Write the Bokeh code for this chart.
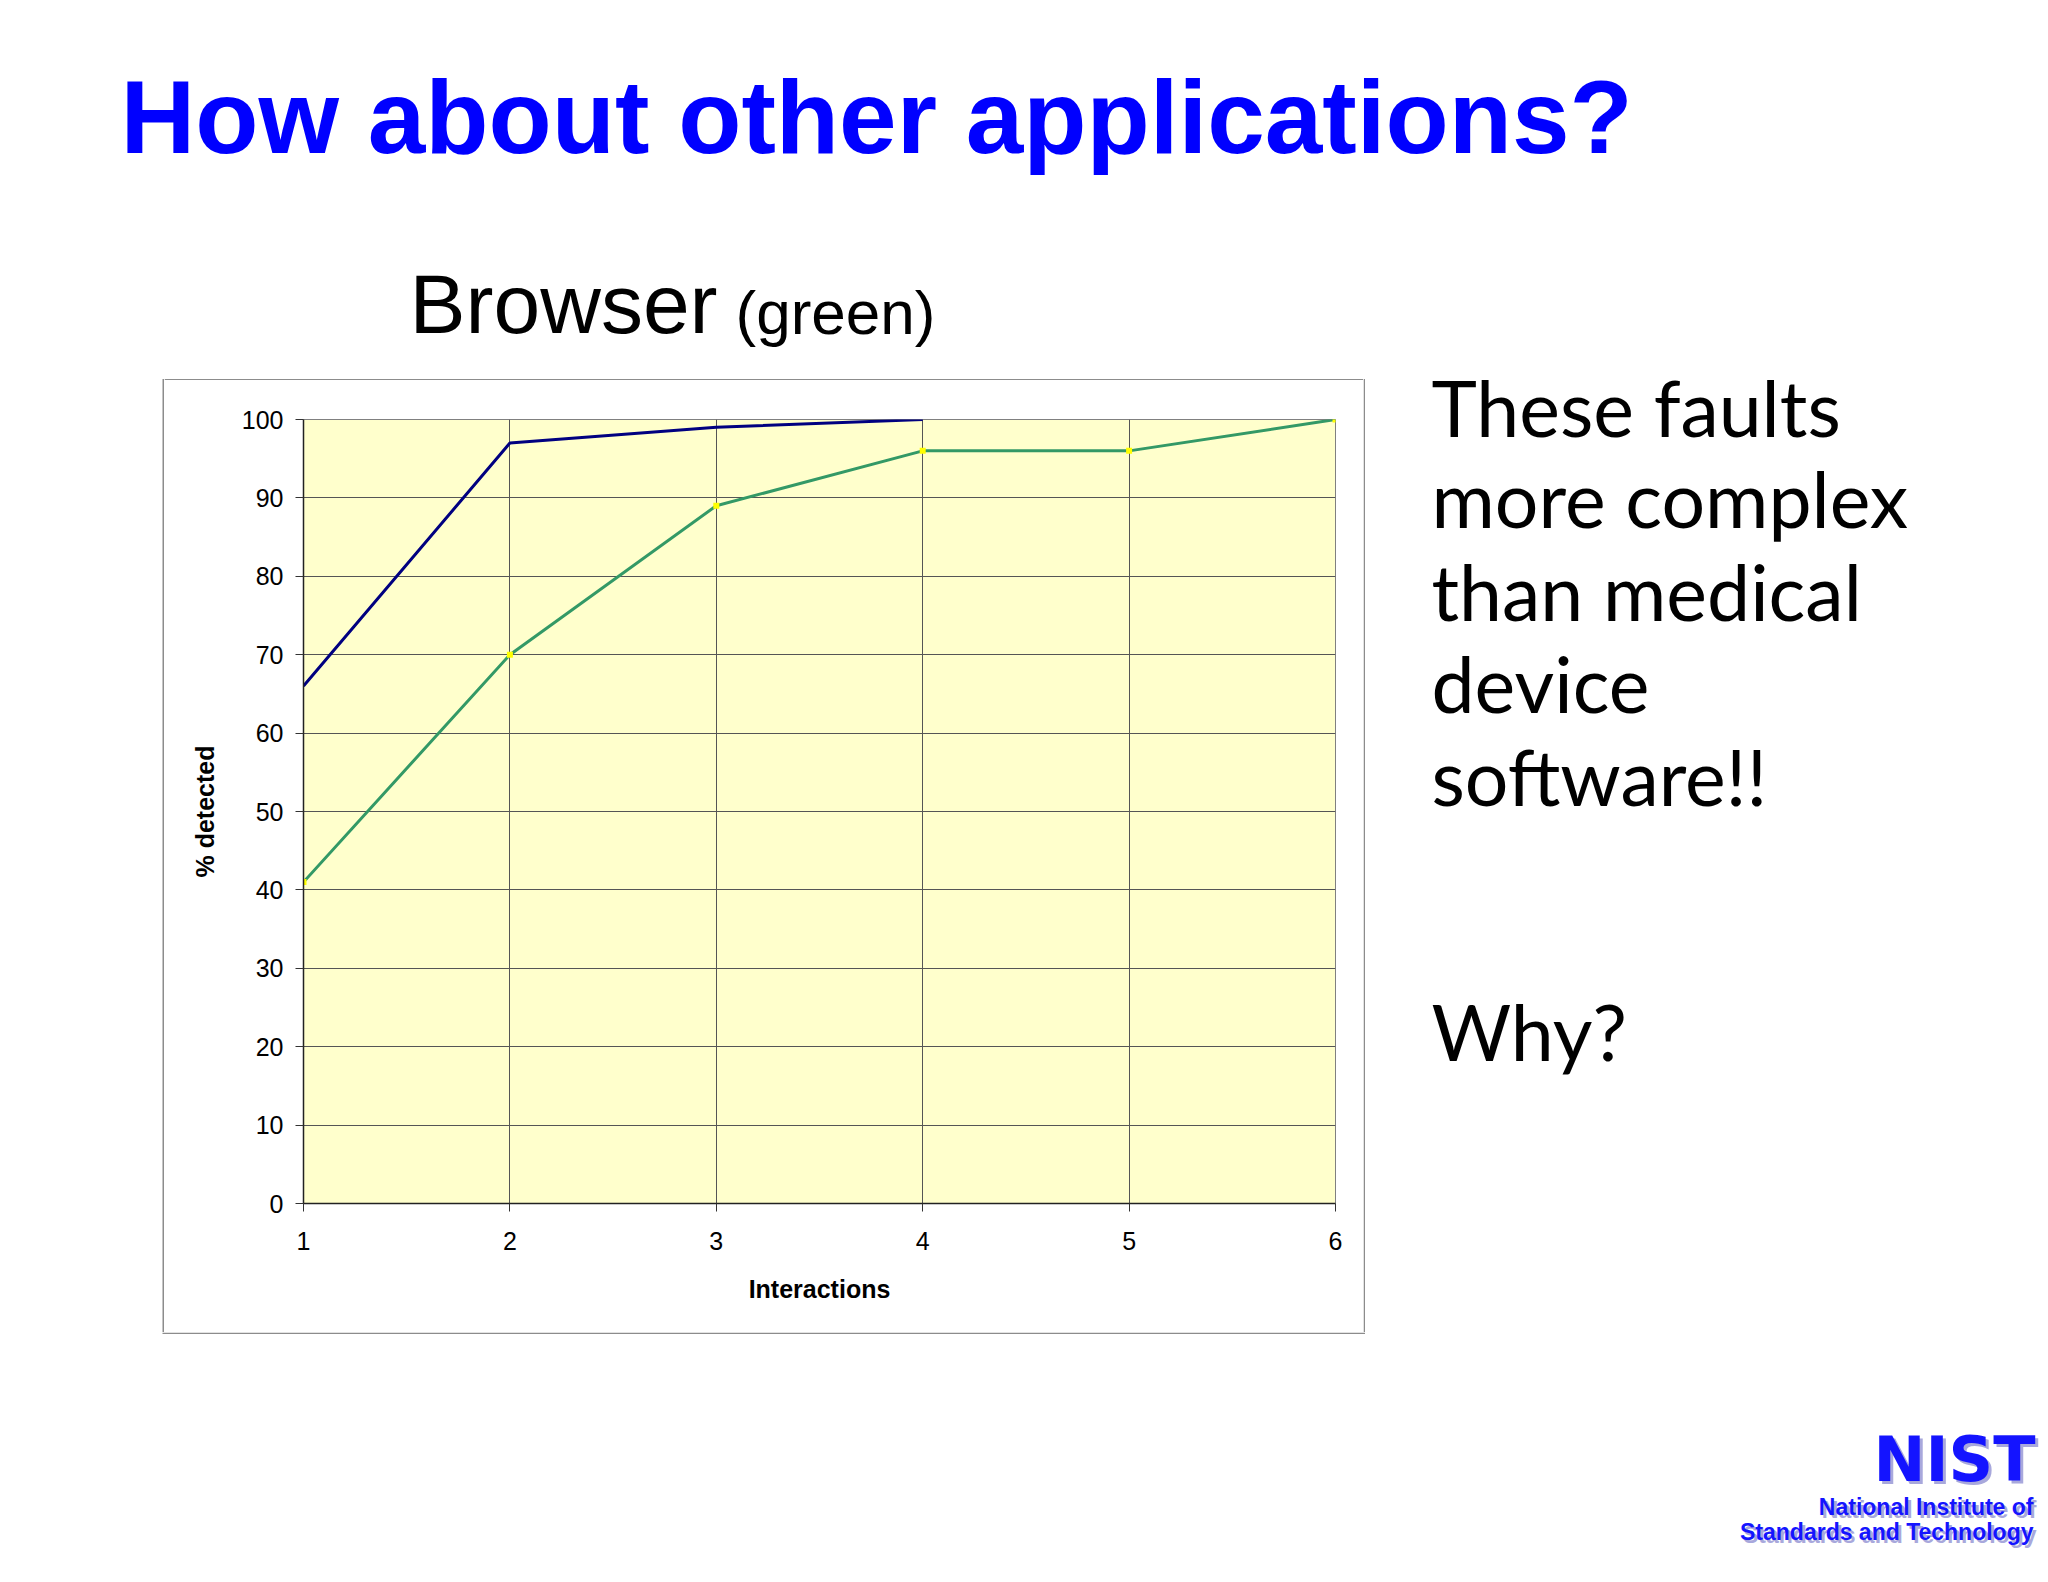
from bokeh.plotting import figure
from bokeh.models import Range1d
from bokeh.layouts import column, row
from bokeh.core.properties import value
from bokeh.embed import file_html
from bokeh.resources import INLINE

# ---- data ----
interactions = [1, 2, 3, 4, 5, 6]
blue_x = [1, 2, 3, 4]
blue_pct = [66, 97, 99, 100]
green_x = [1, 2, 3, 4, 5, 6]
green_pct = [41, 70, 89, 96, 96, 100]
y_ticks = [0, 10, 20, 30, 40, 50, 60, 70, 80, 90, 100]

title_text = "How about other applications?"
subtitle_main = "Browser"
subtitle_note = "(green)"
side_lines = ["These faults", "more complex", "than medical", "device", "software!!"]
side_question = "Why?"
logo_big = "NIST"
logo_lines = ["National Institute of", "Standards and Technology"]

PAGE_W = 2040
BOX_L, BOX_T, BOX_R, BOX_B = 163, 380, 1363, 1332      # outer chart box (page px)
FL, FT, FR, FB = 303, 419, 1335, 1203                  # plot area (page px)
TOP_H = 354                                            # height of the title band
BOTTOM_H = 243
BOX_COLOR = "#8c8c8c"
STRIP_W = BOX_L + 1
MID_H = BOX_B - TOP_H
GAP = BOX_T - TOP_H

# vertical offset between requested y and drawn baseline (per font, x size)
BASE_K = {"Liberation Sans": 0.346, "DejaVu Sans": 0.346, "Lato": 0.387}


def canvas(w, h):
    """A plain figure whose plot area is its whole canvas, 1 unit = 1 px, y down."""
    f = figure(width=w, height=h, output_backend="svg", toolbar_location=None,
               x_range=Range1d(0, w), y_range=Range1d(h, 0), frame_align=False,
               min_border=0, min_border_left=0, min_border_right=0,
               min_border_top=0, min_border_bottom=0)
    f.axis.visible = False
    f.grid.visible = False
    f.outline_line_color = None
    f.background_fill_color = "white"
    f.border_fill_color = "white"
    return f


def txt(f, s, x, baseline, size, color="black", font="Liberation Sans",
        style="normal", align="left"):
    y = baseline - BASE_K[font] * size
    f.text(x=[x], y=[y], text=[s], text_font=value(font),
           text_font_size=value(f"{size}px"), text_color=color,
           text_font_style=style, text_align=align, text_baseline="alphabetic")


# ---------- top: title and subtitle ----------
top = canvas(PAGE_W, TOP_H)
txt(top, title_text, 120, 152, 103.5, "#0000FF", style="bold")
txt(top, subtitle_main, 409, 333, 84)
txt(top, subtitle_note, 735, 333, 62)

# ---------- left strip (box left edge) ----------
strip = canvas(STRIP_W, MID_H)
strip.line([BOX_L - 0.25, BOX_L - 0.25], [GAP - 1.5, MID_H], line_color=BOX_COLOR,
           line_width=1.5)

# ---------- thin band above the chart (box top edge) ----------
edge = canvas(BOX_R - STRIP_W, GAP)
edge.line([0, BOX_R - STRIP_W], [GAP - 0.75, GAP - 0.75], line_color=BOX_COLOR,
          line_width=1.5)

# ---------- chart ----------
p = figure(width=BOX_R - STRIP_W, height=BOX_B - BOX_T, output_backend="svg",
           toolbar_location=None, x_range=Range1d(1, 6), y_range=Range1d(0, 100),
           frame_align=False,
           min_border_left=FL - STRIP_W, min_border_right=BOX_R - FR,
           min_border_top=FT - BOX_T, min_border_bottom=BOX_B - FB)
p.background_fill_color = "#FFFFCC"
p.border_fill_color = "white"
p.outline_line_color = "#808080"
p.outline_line_width = 1

p.xaxis.ticker = interactions
p.yaxis.ticker = y_ticks
for ax in (p.xaxis[0], p.yaxis[0]):
    ax.major_tick_in = 0
    ax.major_tick_out = 8
    ax.minor_tick_line_color = None
    ax.major_tick_line_color = "#333333"
    ax.axis_line_color = "#222222"
    ax.axis_line_width = 1.5
    ax.major_label_text_font = "Liberation Sans"
    ax.major_label_text_font_size = "25px"
    ax.major_label_text_color = "black"
    ax.axis_label_text_font = "Liberation Sans"
    ax.axis_label_text_font_size = "25px"
    ax.axis_label_text_font_style = "bold"
    ax.axis_label_text_color = "black"
p.xaxis.axis_label = "Interactions"
p.yaxis.axis_label = "% detected"
p.xaxis.major_label_standoff = 20
p.yaxis.major_label_standoff = 12
p.xaxis.axis_label_standoff = 22
p.yaxis.axis_label_standoff = 20

p.xgrid.grid_line_color = "#555555"
p.ygrid.grid_line_color = "#555555"
p.xgrid.grid_line_width = 1
p.ygrid.grid_line_width = 1

p.line(blue_x, blue_pct, line_color="#000080", line_width=3)
p.line(green_x, green_pct, line_color="#339966", line_width=3)
p.scatter(green_x, green_pct, marker="square", size=6,
          fill_color="#FFFF00", line_color=None)

# ---------- right-hand text (and box right edge) ----------
side = canvas(PAGE_W - BOX_R, MID_H)
side.line([0.75, 0.75], [GAP - 1.5, MID_H], line_color=BOX_COLOR, line_width=1.5)
side_baselines = [436, 527, 620, 712, 805]
for s, b in zip(side_lines, side_baselines):
    txt(side, s, 1431 - BOX_R, b - TOP_H, 77, font="Lato")
txt(side, side_question, 1431 - BOX_R, 1060 - TOP_H, 77, font="Lato")

# ---------- bottom: box bottom edge and logo ----------
bottom = canvas(PAGE_W, BOTTOM_H)
bottom.line([BOX_L - 1, BOX_R + 1.5], [0.75, 0.75], line_color=BOX_COLOR, line_width=1.5)
for d, col in ((3, "#A8A8DC"), (0, "#1414FF")):
    txt(bottom, logo_big, 2035 + d, 1480 + d - BOX_B, 62, col,
        font="DejaVu Sans", style="bold", align="right")
    txt(bottom, logo_lines[0], 2033 + d, 1514 + d - BOX_B, 23, col,
        style="bold", align="right")
    txt(bottom, logo_lines[1], 2033 + d, 1539 + d - BOX_B, 23, col,
        style="bold", align="right")

layout = column(
    top,
    row(strip, column(edge, p, spacing=0), side, spacing=0),
    bottom,
    spacing=0,
)

open("out.html", "w").write(file_html(layout, INLINE))
